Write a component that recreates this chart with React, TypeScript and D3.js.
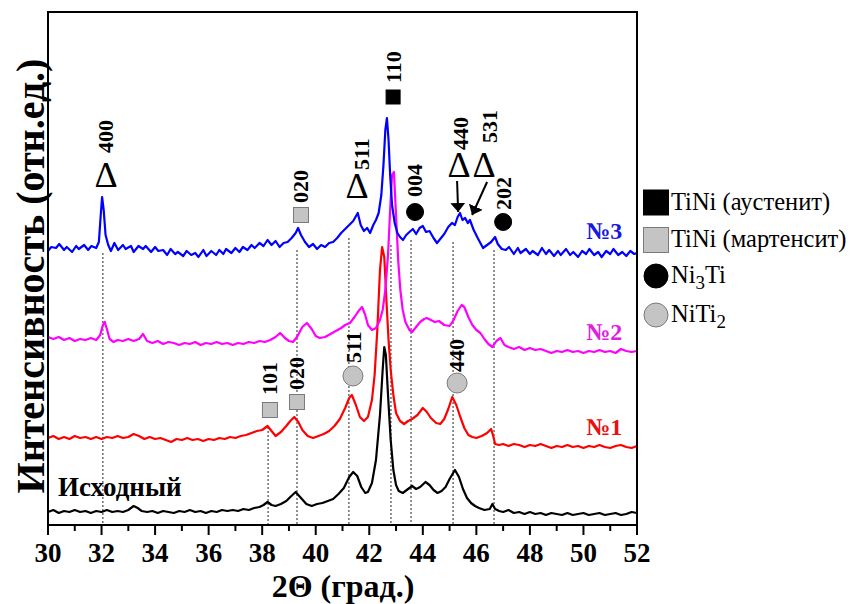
import React from 'react';
import * as d3 from 'd3';

type Pt = [number, number];

// 2θ (deg) vs intensity (arb. units, curves stacked)
const iskhodny: Pt[] = [
  [30.0,13],[30.2,15],[30.4,12],[30.6,14],[30.8,13],[31.0,15],[31.2,13],[31.4,14],[31.6,12],[31.8,14],
  [32.0,13],[32.2,15],[32.4,13],[32.6,14],[32.8,13],[33.0,15],[33.2,19],[33.35,17],[33.5,14],[33.7,13],
  [33.9,14],[34.1,12],[34.3,14],[34.5,13],[34.7,12],[34.9,14],[35.1,13],[35.3,15],[35.5,13],[35.7,14],
  [35.9,12],[36.1,14],[36.3,13],[36.5,15],[36.7,14],[36.9,15],[37.1,14],[37.3,16],[37.5,15],[37.7,17],
  [37.9,18],[38.05,20],[38.2,23],[38.35,20],[38.5,19],[38.7,21],[38.9,24],[39.05,28],[39.25,33],[39.45,27],
  [39.65,21],[39.85,19],[40.05,21],[40.25,22],[40.45,24],[40.65,26],[40.85,31],[41.05,37],[41.25,48],[41.4,53],
  [41.55,49],[41.7,38],[41.85,32],[41.95,33],[42.1,42],[42.25,65],[42.4,110],[42.5,155],[42.56,178],[42.62,170],
  [42.7,130],[42.8,85],[42.9,55],[43.0,40],[43.1,34],[43.25,32],[43.4,35],[43.6,39],[43.75,36],[43.9,38],
  [44.1,43],[44.25,40],[44.4,35],[44.55,32],[44.7,34],[44.85,38],[45.0,46],[45.2,55],[45.35,48],[45.5,36],
  [45.65,27],[45.8,22],[45.95,19],[46.1,17],[46.3,15],[46.5,16],[46.6,21],[46.7,16],[46.85,14],[47.0,13],
  [47.2,15],[47.4,12],[47.6,13],[47.8,11],[48.0,13],[48.2,11],[48.4,12],[48.6,10],[48.8,12],[49.0,11],
  [49.2,10],[49.4,12],[49.6,10],[49.8,11],[50.0,12],[50.2,10],[50.4,11],[50.6,12],[50.8,10],[51.0,11],
  [51.2,12],[51.4,10],[51.6,11],[51.8,13],[52.0,12],
];

const sample1: Pt[] = [
  [30.0,87],[30.2,89],[30.4,86],[30.6,88],[30.8,86],[31.0,89],[31.2,87],[31.4,88],[31.6,86],[31.8,88],
  [32.0,86],[32.2,88],[32.4,87],[32.6,89],[32.8,87],[33.0,88],[33.2,91],[33.4,89],[33.6,86],[33.8,88],
  [34.0,86],[34.2,87],[34.4,85],[34.6,83],[34.8,86],[35.0,85],[35.2,87],[35.4,85],[35.6,86],[35.8,84],
  [36.0,86],[36.2,85],[36.4,87],[36.6,86],[36.8,88],[37.0,87],[37.2,89],[37.4,90],[37.6,92],[37.8,94],
  [38.0,95],[38.2,99],[38.35,94],[38.5,89],[38.7,93],[38.9,99],[39.05,104],[39.2,108],[39.35,103],[39.5,95],
  [39.7,89],[39.9,87],[40.1,89],[40.3,91],[40.5,94],[40.7,99],[40.9,106],[41.1,117],[41.25,127],[41.35,130],
  [41.5,120],[41.65,108],[41.8,104],[41.95,108],[42.1,125],[42.2,150],[42.3,195],[42.4,255],[42.48,278],[42.56,268],
  [42.64,225],[42.72,185],[42.8,155],[42.9,130],[43.0,112],[43.15,104],[43.3,101],[43.45,104],[43.6,106],[43.8,110],
  [44.0,117],[44.15,113],[44.3,107],[44.5,102],[44.65,101],[44.8,106],[44.95,116],[45.1,128],[45.25,120],[45.4,108],
  [45.55,97],[45.7,90],[45.85,88],[46.0,87],[46.2,89],[46.4,92],[46.55,96],[46.62,90],[46.7,81],[46.85,80],
  [47.0,81],[47.2,79],[47.4,81],[47.6,80],[47.8,78],[48.0,80],[48.2,79],[48.4,81],[48.6,79],[48.8,77],
  [49.0,79],[49.2,78],[49.4,80],[49.6,78],[49.8,79],[50.0,77],[50.2,79],[50.4,78],[50.6,80],[50.8,78],
  [51.0,77],[51.2,79],[51.4,80],[51.6,78],[51.8,77],[52.0,79],
];

const sample2: Pt[] = [
  [30.0,188],[30.2,186],[30.4,188],[30.6,185],[30.8,187],[31.0,184],[31.2,186],[31.4,185],[31.6,187],[31.8,185],
  [31.95,190],[32.05,200],[32.12,203],[32.2,196],[32.3,186],[32.45,183],[32.6,185],[32.8,184],[33.0,186],[33.2,184],
  [33.4,186],[33.55,191],[33.7,184],[33.9,182],[34.1,184],[34.3,181],[34.5,183],[34.7,182],[34.9,180],[35.1,182],
  [35.3,181],[35.5,183],[35.7,180],[35.9,182],[36.1,181],[36.3,183],[36.5,181],[36.7,182],[36.9,180],[37.1,182],
  [37.3,181],[37.5,183],[37.7,182],[37.9,184],[38.1,183],[38.3,185],[38.5,188],[38.67,192],[38.85,187],[39.0,184],
  [39.15,183],[39.3,188],[39.5,198],[39.67,202],[39.85,196],[40.0,189],[40.15,187],[40.35,188],[40.55,191],[40.75,194],
  [40.95,197],[41.1,200],[41.28,202],[41.45,208],[41.6,214],[41.73,218],[41.85,210],[41.95,200],[42.1,195],[42.25,197],
  [42.4,205],[42.5,215],[42.6,235],[42.7,270],[42.78,315],[42.85,350],[42.92,353],[43.0,310],[43.08,265],[43.16,235],
  [43.25,215],[43.35,203],[43.5,195],[43.6,193],[43.75,198],[43.9,203],[44.05,206],[44.15,207],[44.3,205],[44.45,203],
  [44.6,204],[44.8,200],[45.0,199],[45.15,205],[45.3,214],[45.45,220],[45.55,218],[45.7,208],[45.85,200],[46.0,195],
  [46.15,192],[46.3,186],[46.45,181],[46.6,178],[46.75,184],[46.9,187],[47.05,180],[47.2,178],[47.4,176],[47.6,178],
  [47.8,175],[48.0,177],[48.2,175],[48.4,176],[48.6,174],[48.8,172],[49.0,174],[49.2,173],[49.4,175],[49.6,173],
  [49.8,174],[50.0,172],[50.2,174],[50.4,173],[50.6,175],[50.8,173],[51.0,174],[51.2,172],[51.4,176],[51.6,174],
  [51.8,173],[52.0,174],
];

const sample3: Pt[] = [
  [30.0,274],[30.12,278],[30.3,277],[30.42,281],[30.6,275],[30.7,278],[30.9,273],[31.05,279],[31.15,276],[31.35,280],
  [31.5,275],[31.62,279],[31.8,277],[31.9,283],[31.97,310],[32.02,328],[32.08,315],[32.15,290],[32.25,280],[32.35,274],
  [32.48,282],[32.62,275],[32.8,280],[32.9,276],[33.1,279],[33.2,273],[33.38,279],[33.55,276],[33.65,279],[33.85,273],
  [34.0,278],[34.12,274],[34.3,275],[34.45,270],[34.58,276],[34.75,271],[34.85,273],[35.05,269],[35.18,274],[35.35,270],
  [35.5,272],[35.62,268],[35.8,275],[35.92,269],[36.1,274],[36.28,270],[36.4,275],[36.55,271],[36.65,276],[36.85,272],
  [37.0,277],[37.15,273],[37.28,278],[37.45,275],[37.6,280],[37.72,277],[37.9,282],[38.05,279],[38.2,285],[38.35,280],
  [38.5,284],[38.65,278],[38.8,282],[38.95,283],[39.1,287],[39.25,292],[39.34,297],[39.45,290],[39.6,283],[39.75,278],
  [39.9,281],[40.05,276],[40.2,280],[40.35,278],[40.5,282],[40.65,283],[40.8,287],[40.95,292],[41.1,296],[41.25,300],
  [41.4,304],[41.57,312],[41.68,300],[41.8,294],[41.92,297],[42.03,292],[42.15,300],[42.25,305],[42.35,312],[42.45,330],
  [42.53,360],[42.6,395],[42.66,407],[42.72,385],[42.78,350],[42.85,320],[42.95,302],[43.05,292],[43.15,288],[43.26,285],
  [43.38,290],[43.5,293],[43.63,296],[43.75,291],[43.88,297],[44.0,299],[44.12,293],[44.25,294],[44.4,287],[44.53,282],
  [44.65,286],[44.8,291],[44.95,298],[45.09,302],[45.2,300],[45.3,308],[45.39,312],[45.48,305],[45.58,307],[45.68,302],
  [45.76,305],[45.9,295],[46.05,287],[46.15,282],[46.25,277],[46.4,280],[46.55,283],[46.7,288],[46.8,281],[46.95,276],
  [47.1,275],[47.22,278],[47.4,271],[47.55,277],[47.65,272],[47.85,276],[48.0,271],[48.1,274],[48.3,270],[48.45,277],
  [48.6,271],[48.72,275],[48.9,269],[49.05,274],[49.15,270],[49.35,276],[49.5,270],[49.62,273],[49.8,268],[49.95,274],
  [50.1,271],[50.22,276],[50.4,270],[50.55,273],[50.68,268],[50.85,274],[51.0,271],[51.12,276],[51.3,270],[51.45,273],
  [51.6,269],[51.75,274],[51.9,271],[52.0,272],
];

const xTickValues = [30, 32, 34, 36, 38, 40, 42, 44, 46, 48, 50, 52];
const xMinorValues = [31, 33, 35, 37, 39, 41, 43, 45, 47, 49, 51];

// reflection guide lines: [2θ, top intensity]
const refLines: Pt[] = [
  [32.05, 272], [38.22, 98], [39.3, 275], [41.24, 287], [42.81, 280], [43.56, 285], [45.13, 283], [46.66, 275],
];

type Ann = { marker: string; x: number; v: number; label: string; lx: number; lv: number };
const annotations: Ann[] = [
  { marker: 'delta', x: 32.17, v: 338, label: '400', lx: 32.17, lv: 372 },
  { marker: 'sqGray', x: 39.45, v: 310, label: '020', lx: 39.45, lv: 322 },
  { marker: 'delta', x: 41.54, v: 327, label: '511', lx: 41.73, lv: 355 },
  { marker: 'sqBlack', x: 42.89, v: 428, label: '110', lx: 42.92, lv: 442 },
  { marker: 'circBlack', x: 43.71, v: 313, label: '004', lx: 43.71, lv: 328 },
  { marker: 'delta', x: 45.35, v: 348, label: '440', lx: 45.43, lv: 375 },
  { marker: 'delta', x: 46.29, v: 348, label: '531', lx: 46.51, lv: 382 },
  { marker: 'circBlack', x: 47.0, v: 303, label: '202', lx: 47.03, lv: 315 },
  { marker: 'sqGray', x: 38.29, v: 115, label: '101', lx: 38.29, lv: 130 },
  { marker: 'sqGray', x: 39.3, v: 123, label: '020', lx: 39.3, lv: 135 },
  { marker: 'circGray', x: 41.39, v: 149, label: '511', lx: 41.43, lv: 162 },
  { marker: 'circGray', x: 45.28, v: 142, label: '440', lx: 45.28, lv: 153 },
];

// arrows: [x1, v1, x2, v2]
const arrows: [number, number, number, number][] = [
  [45.28, 344, 45.32, 313],
  [46.40, 343, 45.84, 310],
];

const seriesNames = ['Исходный', '№1', '№2', '№3'];
const seriesColors = ['#000000', '#ff0000', '#ff00ff', '#0000ff'];
const labelColors = ['#000000', '#e81010', '#e020e0', '#1818e0'];
// label anchors: [2θ, intensity]
const seriesLabelPos: Pt[] = [[30.37, 29], [51.45, 90], [51.45, 185], [51.45, 286]];

const legendItems = [
  { marker: 'sqBlack', text: 'TiNi (аустенит)', sub: '', after: '' },
  { marker: 'sqGray', text: 'TiNi (мартенсит)', sub: '', after: '' },
  { marker: 'circBlack', text: 'Ni', sub: '3', after: 'Ti' },
  { marker: 'circGray', text: 'NiTi', sub: '2', after: '' },
];

const W = 857, H = 604;
const L = 48, R = 637, T = 12, B = 525;
const FONT = '"Liberation Serif", "Times New Roman", Times, serif';

export default function App() {
  const x = d3.scaleLinear().domain([30, 52]).range([L, R]);
  const y = d3.scaleLinear().domain([0, 513]).range([B, T]);
  const line = d3.line<Pt>().x((d) => x(d[0])).y((d) => y(d[1]));
  const series = [iskhodny, sample1, sample2, sample3];

  const grayFill = '#c4c4c4';
  const grayStroke = '#7a7a7a';

  const drawMarker = (m: string, cx: number, cy: number, key: string, big = false) => {
    if (m === 'delta') {
      return (
        <text key={key} x={cx} y={cy} textAnchor="middle" fontSize={36} style={{ fontFamily: FONT }}>Δ</text>
      );
    }
    if (m === 'sqBlack' || m === 'sqGray') {
      const s = big ? 25 : m === 'sqBlack' ? 14 : 15;
      return (
        <rect key={key} x={cx - s / 2} y={cy - s / 2} width={s} height={s}
          fill={m === 'sqBlack' ? '#000' : grayFill}
          stroke={m === 'sqBlack' ? '#000' : grayStroke} strokeWidth={1} />
      );
    }
    const r = big ? 12 : m === 'circBlack' ? 8.5 : 10;
    return (
      <circle key={key} cx={cx} cy={cy} r={r}
        fill={m === 'circBlack' ? '#000' : grayFill}
        stroke={m === 'circBlack' ? '#000' : grayStroke} strokeWidth={1} />
    );
  };

  const tf = { fontFamily: FONT };

  return (
    <svg width={W} height={H} style={{ position: 'absolute', left: 0, top: 0, background: '#fff' }}>
      <defs>
        <marker id="ah" viewBox="0 0 10 10" refX="10" refY="5" markerWidth="9" markerHeight="15"
          markerUnits="userSpaceOnUse" orient="auto" preserveAspectRatio="none">
          <path d="M0,0 L10,5 L0,10 Z" fill="#000" />
        </marker>
      </defs>
      <rect width={W} height={H} fill="#fff" />

      {/* guide lines */}
      {refLines.map(([p, top], i) => (
        <line key={'g' + i} x1={x(p)} x2={x(p)} y1={y(top)} y2={B} stroke="#222"
          strokeWidth={1} strokeDasharray="2,2" />
      ))}

      {/* curves */}
      {series.map((s, i) => (
        <path key={'s' + i} d={line(s) || ''} fill="none" stroke={seriesColors[i]}
          strokeWidth={2.2} strokeLinejoin="round" />
      ))}

      {/* frame */}
      <rect x={L} y={T} width={R - L} height={B - T} fill="none" stroke="#000" strokeWidth={2} />

      {/* ticks */}
      {xTickValues.map((t) => (
        <g key={'t' + t}>
          <line x1={x(t)} x2={x(t)} y1={B} y2={B + 10} stroke="#000" strokeWidth={2} />
          <text x={x(t)} y={562} textAnchor="middle" fontSize={27} fontWeight="bold" style={tf}>{t}</text>
        </g>
      ))}
      {xMinorValues.map((t) => (
        <line key={'m' + t} x1={x(t)} x2={x(t)} y1={B} y2={B + 6} stroke="#000" strokeWidth={2} />
      ))}

      {/* axis titles */}
      <text x={343} y={597} textAnchor="middle" fontSize={32} fontWeight="bold" style={tf}>2Θ (град.)</text>
      <text transform={`translate(44,${276}) rotate(-90)`} textAnchor="middle" fontSize={40}
        fontWeight="bold" style={tf}>Интенсивность (отн.ед.)</text>

      {/* series labels */}
      {seriesNames.map((n, i) => (
        <text key={'n' + i} x={x(seriesLabelPos[i][0])} y={y(seriesLabelPos[i][1])}
          textAnchor={i === 0 ? 'start' : 'end'} fontSize={i === 0 ? 27 : 24} fontWeight="bold"
          fill={labelColors[i]} style={tf}>{n}</text>
      ))}

      {/* annotations */}
      {annotations.map((a, i) => (
        <g key={'a' + i}>
          {drawMarker(a.marker, x(a.x), y(a.v), 'mk' + i)}
          <text transform={`translate(${x(a.lx) + 7},${y(a.lv)}) rotate(-90)`} fontSize={22}
            fontWeight="bold" style={tf}>{a.label}</text>
        </g>
      ))}
      {arrows.map(([x1, v1, x2, v2], i) => (
        <line key={'ar' + i} x1={x(x1)} y1={y(v1)} x2={x(x2)} y2={y(v2)} stroke="#000"
          strokeWidth={2} markerEnd="url(#ah)" />
      ))}

      {/* legend */}
      {legendItems.map((it, i) => {
        const cy = [202.5, 240, 276, 315][i];
        return (
          <g key={'l' + i}>
            {drawMarker(it.marker, 656, cy, 'lm' + i, true)}
            <text x={671} y={cy + 7} fontSize={24.5} style={tf}>
              {it.text}
              {it.sub ? <tspan dy={6} fontSize={19}>{it.sub}</tspan> : null}
              {it.after ? <tspan dy={-6}>{it.after}</tspan> : null}
            </text>
          </g>
        );
      })}
    </svg>
  );
}
